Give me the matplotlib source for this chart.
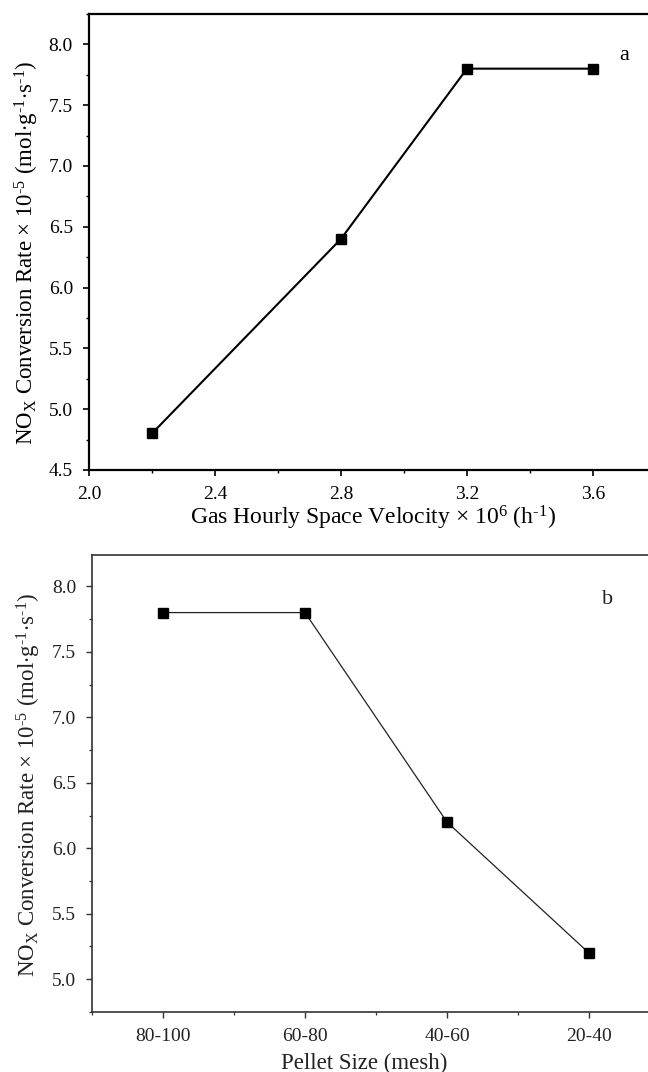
import matplotlib
matplotlib.use("Agg")
import matplotlib.pyplot as plt
from matplotlib.ticker import MultipleLocator, FixedLocator

plt.rcParams['font.family'] = ['Liberation Serif', 'DejaVu Serif']
plt.rcParams['mathtext.fontset'] = 'custom'
plt.rcParams['mathtext.rm'] = 'Liberation Serif'
plt.rcParams['mathtext.it'] = 'Liberation Serif:italic'

# panel a: gas hourly space velocity
ghsv = [2.2, 2.8, 3.2, 3.6]
rate_a = [4.8, 6.4, 7.8, 7.8]

# panel b: pellet size
mesh = ['80-100', '60-80', '40-60', '20-40']
rate_b = [7.8, 7.8, 6.2, 5.2]

ylab = (r'NO$_\mathrm{X}$ Conversion Rate $\times$ 10$^{\text{-5}}$ '
        r'(mol$\cdot$g$^{\text{-1}}$$\cdot$s$^{\text{-1}}$)')

fig = plt.figure(figsize=(6.48, 10.72), dpi=100)

# top panel
ax = fig.add_axes([0.1373, 0.5616, 0.875, 0.4254])
ax.plot(ghsv, rate_a, color='black', lw=1.5, marker='s', ms=7.5)
ax.set_xlim(2.0, 3.8)
ax.set_ylim(4.5, 8.25)
ax.xaxis.set_major_locator(FixedLocator([2.0, 2.4, 2.8, 3.2, 3.6]))
ax.xaxis.set_minor_locator(MultipleLocator(0.2))
ax.yaxis.set_major_locator(MultipleLocator(0.5))
ax.yaxis.set_minor_locator(MultipleLocator(0.25))
for s in ax.spines.values():
    s.set_linewidth(1.6)
ax.tick_params(which='major', direction='out', length=4.5, width=1.2,
               labelsize=14, pad=7)
ax.tick_params(which='minor', direction='out', length=2.5, width=1.0)
ax.tick_params(top=False, right=False)
ax.set_xlabel(r'Gas Hourly Space Velocity $\times$ 10$^{6}$ (h$^{\text{-1}}$)',
              fontsize=17, va='center')
ax.set_ylabel(ylab, fontsize=16.5)
ax.xaxis.set_label_coords(0.5, -0.105)
ax.yaxis.set_label_coords(-0.085, 0.476)
ax.text(3.70, 7.91, 'a', fontsize=16, ha='center', va='center')

# bottom panel
gray = '#222222'
ax2 = fig.add_axes([0.142, 0.056, 0.8765, 0.4263])
ax2.plot(range(len(mesh)), rate_b, color=gray, lw=0.9, marker='s', ms=7.5,
         markerfacecolor='black', markeredgecolor='black')
ax2.set_xlim(-0.5, 3.5)
ax2.set_ylim(4.75, 8.24)
ax2.set_xticks(range(len(mesh)))
ax2.set_xticklabels(mesh)
ax2.xaxis.set_minor_locator(FixedLocator([-0.5, 0.5, 1.5, 2.5]))
ax2.yaxis.set_major_locator(MultipleLocator(0.5))
ax2.yaxis.set_minor_locator(MultipleLocator(0.25))
for s in ax2.spines.values():
    s.set_linewidth(1.2)
    s.set_color('#333333')
ax2.tick_params(which='major', direction='out', length=4.5, width=1.0,
                labelsize=14, pad=7, color='#333333', labelcolor=gray)
ax2.tick_params(which='minor', direction='out', length=2.5, width=0.9,
                color='#333333')
ax2.tick_params(top=False, right=False)
ax2.set_xlabel('Pellet Size (mesh)', fontsize=16.5, color=gray, va='center')
ax2.set_ylabel(ylab, fontsize=16.5, color=gray)
ax2.xaxis.set_label_coords(0.48, -0.112)
ax2.yaxis.set_label_coords(-0.086, 0.497)
ax2.text(3.13, 7.9, 'b', fontsize=16, ha='center', va='center', color=gray)

fig.savefig('out.png', dpi=100)
